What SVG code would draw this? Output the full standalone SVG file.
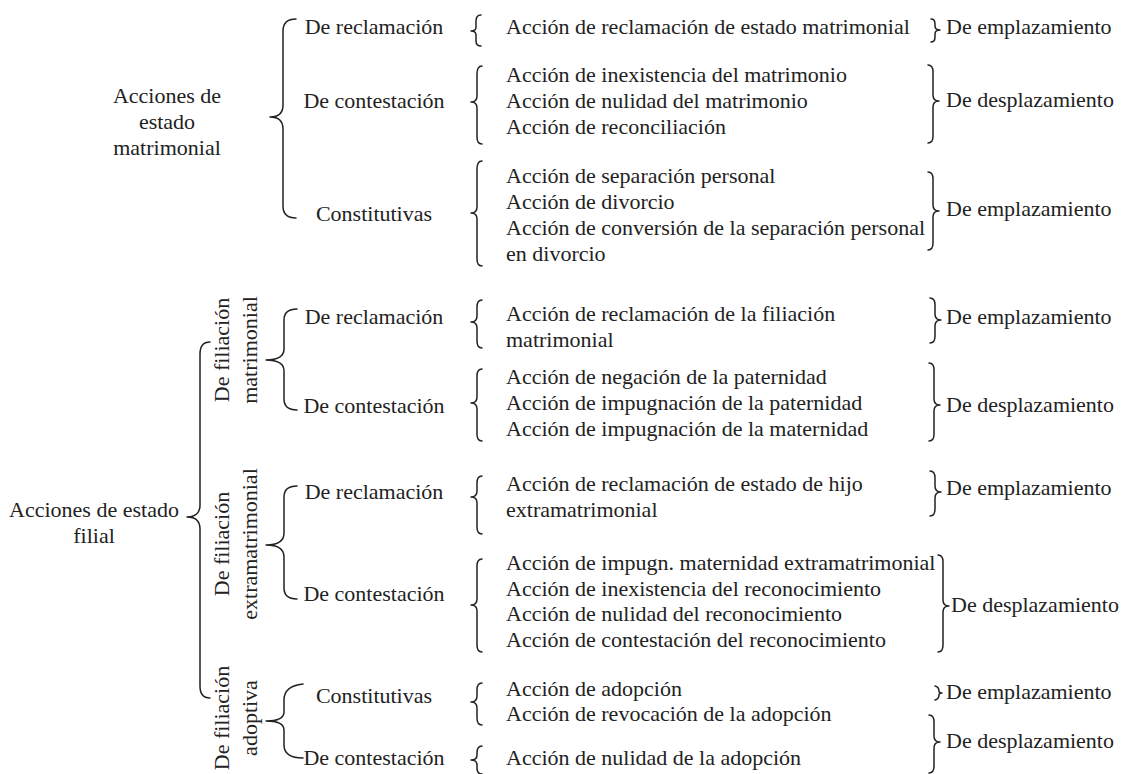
<svg xmlns="http://www.w3.org/2000/svg" width="1124" height="774" viewBox="0 0 1124 774">
<style>
text{font-family:"Liberation Serif","Times New Roman",serif;font-size:22px;fill:#222}
.m{text-anchor:middle}
.b{fill:none;stroke:#222;stroke-width:1.5;stroke-linecap:round;stroke-linejoin:round}
</style>
<rect width="1124" height="774" fill="#fff"/>
<g id="connectors">
<path class="b" d="M296,19 Q283,19 283,31 L283,105 Q283,117 270,117 Q283,117 283,129 L283,206 Q283,218 296,218"/>
<path class="b" d="M210,342 Q200,342 200,354 L200,505 Q200,517 187,517 Q200,517 200,529 L200,686 Q200,698 210,698"/>
<path class="b" d="M297,309 Q284,309 284,320 L284,349 Q284,360 266,360 Q284,360 284,371 L284,399 Q284,410 297,410"/>
<path class="b" d="M297,486 Q284,486 284,497 L284,533 Q284,545 266,545 Q284,545 284,557 L284,588 Q284,599 297,599"/>
<path class="b" d="M303,684 Q284,686 284,700 L284,712 Q284,721 266,721 Q284,721 284,730 L284,745 Q284,758 303,758"/>
<path class="b" d="M481,15 Q476,15 476,21 L476,27 Q476,31 471,31 Q476,31 476,35 L476,41 Q476,46 481,46"/>
<path class="b" d="M482,66 Q477,66 477,74 L477,96 Q477,102 471,102 Q477,102 477,108 L477,137 Q477,144 482,144"/>
<path class="b" d="M482,161 Q477,161 477,169 L477,207 Q477,213 471,213 Q477,213 477,219 L477,259 Q477,266 482,266"/>
<path class="b" d="M482,300 Q477,300 477,307 L477,316 Q477,322 471,322 Q477,322 477,328 L477,341 Q477,348 482,348"/>
<path class="b" d="M482,369 Q477,369 477,376 L477,397 Q477,403 471,403 Q477,403 477,409 L477,434 Q477,441 482,441"/>
<path class="b" d="M482,476 Q477,476 477,483 L477,491 Q477,497 471,497 Q477,497 477,503 L477,527 Q477,534 482,534"/>
<path class="b" d="M482,559 Q477,559 477,566 L477,599 Q477,605 471,605 Q477,605 477,611 L477,645 Q477,652 482,652"/>
<path class="b" d="M482,683 Q477,683 477,690 L477,696 Q477,702 471,702 Q477,702 477,708 L477,718 Q477,725 482,725"/>
<path class="b" d="M482,746 Q477,746 477,753 L477,755 Q477,760 471,760 Q477,760 477,765 L477,768 Q477,774 482,774"/>
<path class="b" d="M931,19 Q935,19 935,24 L935,26 Q935,30 940,30 Q935,30 935,34 L935,37 Q935,42 931,42"/>
<path class="b" d="M928,65 Q933,65 933,72 L933,95 Q933,101 939,101 Q933,101 933,107 L933,136 Q933,143 928,143"/>
<path class="b" d="M928,172 Q933,172 933,179 L933,205 Q933,211 939,211 Q933,211 933,217 L933,243 Q933,250 928,250"/>
<path class="b" d="M930,298 Q935,298 935,305 L935,314 Q935,320 941,320 Q935,320 935,326 L935,336 Q935,343 930,343"/>
<path class="b" d="M929,363 Q934,363 934,370 L934,399 Q934,405 940,405 Q934,405 934,411 L934,434 Q934,441 929,441"/>
<path class="b" d="M930,471 Q935,471 935,478 L935,486 Q935,492 941,492 Q935,492 935,498 L935,509 Q935,516 930,516"/>
<path class="b" d="M938,555 Q943,555 943,562 L943,600 Q943,606 949,606 Q943,606 943,612 L943,645 Q943,652 938,652"/>
<path class="b" d="M935,686 Q939,687 939,691 Q939,693 942,693 Q939,693 939,695 Q939,699 935,700"/>
<path class="b" d="M929,715 Q934,715 934,722 L934,736 Q934,742 940,742 Q934,742 934,748 L934,766 Q934,773 929,773"/>
</g>
<g id="n-matrimonial"><text class="m" x="167" y="103">Acciones de</text><text class="m" x="167" y="129">estado</text><text class="m" x="167" y="155">matrimonial</text></g>
<g id="n-filial"><text class="m" x="94" y="517">Acciones de estado</text><text class="m" x="94" y="543">filial</text></g>
<g id="n-m-recl"><text class="m" x="374" y="34">De reclamación</text></g>
<g id="n-m-cont"><text class="m" x="374" y="108">De contestación</text></g>
<g id="n-m-const"><text class="m" x="374" y="221">Constitutivas</text></g>
<g id="n-fil-mat"><text class="m" transform="translate(229,350) rotate(-90)">De filiación</text><text class="m" transform="translate(257,350) rotate(-90)">matrimonial</text></g>
<g id="n-fil-ext"><text class="m" transform="translate(229,544) rotate(-90)">De filiación</text><text class="m" transform="translate(257,544) rotate(-90)">extramatrimonial</text></g>
<g id="n-fil-adop"><text class="m" transform="translate(229,718) rotate(-90)">De filiación</text><text class="m" transform="translate(257,718) rotate(-90)">adoptiva</text></g>
<g id="n-fm-recl"><text class="m" x="374" y="324">De reclamación</text></g>
<g id="n-fm-cont"><text class="m" x="374" y="413">De contestación</text></g>
<g id="n-fe-recl"><text class="m" x="374" y="499">De reclamación</text></g>
<g id="n-fe-cont"><text class="m" x="374" y="601">De contestación</text></g>
<g id="n-fa-const"><text class="m" x="374" y="703">Constitutivas</text></g>
<g id="n-fa-cont"><text class="m" x="374" y="765">De contestación</text></g>
<g id="l1"><text x="506" y="34">Acción de reclamación de estado matrimonial</text></g>
<g id="l2"><text x="506" y="82">Acción de inexistencia del matrimonio</text><text x="506" y="108">Acción de nulidad del matrimonio</text><text x="506" y="134">Acción de reconciliación</text></g>
<g id="l3"><text x="506" y="183">Acción de separación personal</text><text x="506" y="209">Acción de divorcio</text><text x="506" y="235">Acción de conversión de la separación personal</text><text x="506" y="261">en divorcio</text></g>
<g id="l4"><text x="506" y="321">Acción de reclamación de la filiación</text><text x="506" y="347">matrimonial</text></g>
<g id="l5"><text x="506" y="384">Acción de negación de la paternidad</text><text x="506" y="410">Acción de impugnación de la paternidad</text><text x="506" y="436">Acción de impugnación de la maternidad</text></g>
<g id="l6"><text x="506" y="491">Acción de reclamación de estado de hijo</text><text x="506" y="517">extramatrimonial</text></g>
<g id="l7"><text x="506" y="570">Acción de impugn. maternidad extramatrimonial</text><text x="506" y="596">Acción de inexistencia del reconocimiento</text><text x="506" y="621">Acción de nulidad del reconocimiento</text><text x="506" y="647">Acción de contestación del reconocimiento</text></g>
<g id="l8"><text x="506" y="696">Acción de adopción</text><text x="506" y="721">Acción de revocación de la adopción</text></g>
<g id="l9"><text x="506" y="765">Acción de nulidad de la adopción</text></g>
<g id="r1"><text x="946" y="34">De emplazamiento</text></g>
<g id="r2"><text x="946" y="107">De desplazamiento</text></g>
<g id="r3"><text x="946" y="216">De emplazamiento</text></g>
<g id="r4"><text x="946" y="324">De emplazamiento</text></g>
<g id="r5"><text x="946" y="412">De desplazamiento</text></g>
<g id="r6"><text x="946" y="495">De emplazamiento</text></g>
<g id="r7"><text x="951" y="612">De desplazamiento</text></g>
<g id="r8"><text x="946" y="699">De emplazamiento</text></g>
<g id="r9"><text x="946" y="748">De desplazamiento</text></g>
</svg>
